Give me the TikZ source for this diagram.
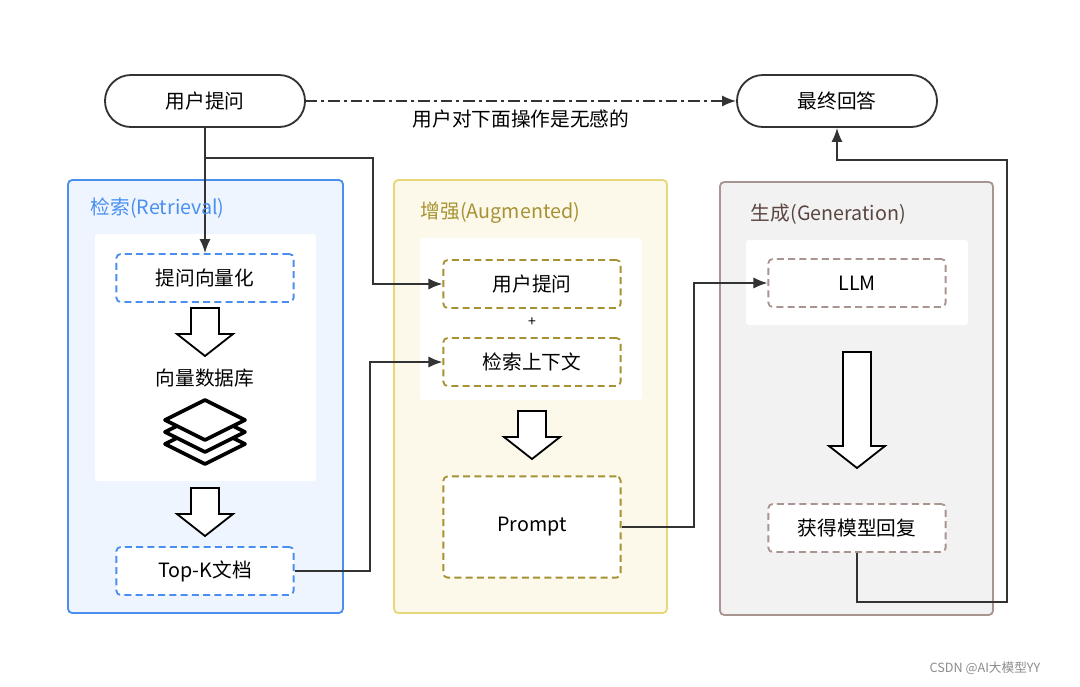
\documentclass[tikz,border=0pt]{standalone}
\usepackage{fontspec}
\setmainfont{Noto Sans CJK SC}
\usetikzlibrary{positioning,arrows.meta}
\definecolor{retblue}{HTML}{4A8FF0}
\definecolor{retfill}{HTML}{EEF5FF}
\definecolor{augline}{HTML}{E8D77A}
\definecolor{augfill}{HTML}{FDF9EA}
\definecolor{augtext}{HTML}{A69232}
\definecolor{genline}{HTML}{A8958F}
\definecolor{genfill}{HTML}{F2F2F2}
\definecolor{gentext}{HTML}{5A4540}
\tikzset{
  txt/.style={font=\fontsize{14}{16}\selectfont},
  endbox/.style={draw=black!80, line width=1.3pt, rounded corners=0.65cm, minimum width=5cm, minimum height=1.3cm, txt},
  step/.style={draw=#1, line width=1.3pt, dashed, dash pattern=on 5pt off 3pt, rounded corners=3pt, fill=white, minimum width=4.43cm, minimum height=1.2cm, txt},
  link/.style={line width=1.3pt, black!80, -{Latex[length=3.5mm,width=2.8mm]}},
  pics/hdown/.style={code={
    \draw[line width=1.3pt, fill=white] (-14,0) -- (14,0) -- (14,#1-22) -- (28,#1-22) -- (0,#1)
      -- (-28,#1-22) -- (-14,#1-22) -- cycle;}}
}
\begin{document}
\begin{tikzpicture}[x=0.025cm, y=-0.025cm]
\useasboundingbox (0,0) rectangle (1080,686);
% panels
\draw[retblue, line width=1.3pt, fill=retfill, rounded corners=3pt] (68,180) rectangle (343,613);
\fill[white, rounded corners=2pt] (95,234) rectangle (316,481);
\draw[augline, line width=1.3pt, fill=augfill, rounded corners=3pt] (394,180) rectangle (667,613);
\fill[white, rounded corners=2pt] (420,238) rectangle (642,400);
\draw[genline, line width=1.3pt, fill=genfill, rounded corners=3pt] (720,182) rectangle (993,615);
\fill[white, rounded corners=2pt] (746,240) rectangle (968,325);

% nodes
\node[endbox] (ask) at (205,101) {用户提问};
\node[endbox] (answer) at (837,101) {最终回答};
\node[step=retblue] (vec) at (205,278) {提问向量化};
\node[txt] (db) at (205,378) {向量数据库};
\node[step=retblue] (topk) at (205,571) {Top-K文档};
\node[step=augtext] (q) at (532,284) {用户提问};
\node[txt, font=\normalsize] (plus) at (532,322) {+};
\node[step=augtext] (ctx) at (532,362) {检索上下文};
\node[step=augtext, minimum height=2.53cm] (prompt) at (532,527) {Prompt};
\node[step=genline] (llm) at (857,283) {LLM};
\node[step=genline] (reply) at (857,528) {获得模型回复};
\node[font=\small, black!45] (mark) at (985,668) {CSDN @AI大模型YY};

% hollow arrows
\pic at (205,308) {hdown=48};
\pic at (205,488) {hdown=48};
\pic at (532,411) {hdown=48};
\pic at (857,352) {hdown=116};

% stack icon
\foreach \dy in {24,12,0}
  \draw[line width=2.6pt, fill=white, line join=round] (205,400+\dy) -- (245,420+\dy) -- (205,440+\dy) -- (165,420+\dy) -- cycle;

% connectors
\draw[line width=1.3pt, black!80, dash pattern=on 8pt off 3pt on 2pt off 3pt, -{Latex[length=3.5mm,width=2.8mm]}] (ask) -- (answer)
  node[midway, below=2pt, txt, text=black] {用户对下面操作是无感的};
\draw[link] (ask) -- (vec);
\coordinate (split) at (205,158);
\draw[link] (split) -- (373,158) |- (q);
\draw[link] (topk) -- (370,571) |- (ctx);
\draw[link] (prompt) -- (694,527) |- (llm);
\draw[link] (reply) -- (857,602) -- (1007,602) -- (1007,160) -| (answer);

% panel titles
\node[txt, retblue, anchor=west] (rettitle) at (86,208) {检索(Retrieval)};
\node[txt, augtext, anchor=west] (augtitle) at (416,213) {增强(Augmented)};
\node[txt, gentext, anchor=west] (gentitle) at (746,214) {生成(Generation)};
\end{tikzpicture}
\end{document}
